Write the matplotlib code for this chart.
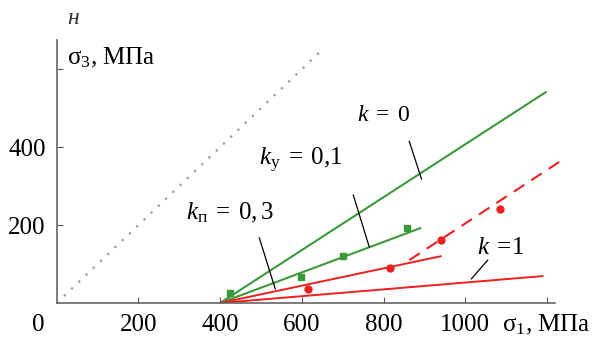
"""
Stress diagram: sigma_3 vs sigma_1 for several k values
Output: out.png
"""

import matplotlib.pyplot as plt

plt.rcParams.update({
    'font.family': ['Liberation Serif', 'DejaVu Serif'],
    'mathtext.fontset': 'custom',
    'mathtext.rm': 'Liberation Serif',
    'mathtext.it': 'Liberation Serif:italic',
    'font.size': 18,
})

GREEN = '#3a9a3a'
RED = '#ee1f1f'
GREY = '#9a9a9a'

# reference line sigma3 = sigma1
diag_x = [0, 650]
diag_y = [0, 650]

# k = 0 (green)
k0_x = [400, 1197]
k0_y = [0, 541]

# k_y = 0,1 (green) with experimental squares
ky_x = [400, 890]
ky_y = [0, 192]
ky_pts_x = [425, 599, 702, 858]
ky_pts_y = [26, 67, 120, 192]

# k_p = 0,3 (red), solid part and dashed continuation
kp_x = [400, 940]
kp_y = [0, 120]
kp_dash_x = [863, 1233]
kp_dash_y = [110, 364]
kp_pts_x = [614, 815, 940, 1084]
kp_pts_y = [36, 90, 162, 241]

# k = 1 (red)
k1_x = [400, 1189]
k1_y = [0, 69]

x_ticks = [200, 400, 600, 800, 1000, 1200]
x_labels = ['200', '400', '600', '800', '1000', '']
y_ticks = [200, 400, 600]
y_labels = ['200', '400', '']


def create_chart():
    fig = plt.figure(figsize=(5.99, 3.47), dpi=100)
    ax = fig.add_axes([0.0947, 0.1268, 0.832, 0.758])

    ax.plot(diag_x, diag_y, color=GREY, linestyle=(0, (1, 3.5)), linewidth=1.6)

    ax.plot(k0_x, k0_y, color=GREEN, linewidth=1.5)
    ax.plot(ky_x, ky_y, color=GREEN, linewidth=1.5)
    ax.plot(ky_pts_x, ky_pts_y, 's', color=GREEN, markersize=5)

    ax.plot(kp_x, kp_y, color=RED, linewidth=1.4)
    ax.plot(kp_dash_x, kp_dash_y, color=RED, linewidth=1.5,
            linestyle=(0, (6, 4)), clip_on=False)
    ax.plot(kp_pts_x, kp_pts_y, 'o', color=RED, markersize=5)

    ax.plot(k1_x, k1_y, color=RED, linewidth=1.4)

    # leader lines and labels
    notes = [
        (r'$k\;=\;0$', (800, 482), [863, 893], [415, 318], 17),
        (r'$k_{\mathrm{у}}\;=\;0{,}1$', (598, 367), [726, 765], [277, 144], 18),
        (r'$k_{\mathrm{п}}\;=\;0,3$', (425, 231), [496, 535], [167, 36], 18),
        (r'$k\;=\!1$', (1086, 141), [1055, 1015], [110, 62], 18),
    ]
    for txt, pos, lx, ly, fs in notes:
        ax.plot(lx, ly, color='black', linewidth=0.9)
        ax.text(pos[0], pos[1], txt, ha='center', va='center', fontsize=fs)

    ax.set_xlim(0, 1220)
    ax.set_ylim(0, 675)
    ax.set_xticks(x_ticks)
    ax.set_xticklabels(x_labels)
    ax.set_yticks(y_ticks)
    ax.set_yticklabels(y_labels)
    ax.tick_params(direction='in', length=4, width=0.8, color='#555555',
                   labelsize=18, pad=8)

    for side in ['top', 'right']:
        ax.spines[side].set_visible(False)
    for side in ['left', 'bottom']:
        ax.spines[side].set_color('#666666')
        ax.spines[side].set_linewidth(1.2)

    fig.text(38 / 599, 1 - 325 / 347, '0', ha='center', va='center', fontsize=18)
    fig.text(502 / 599, 1 - 325 / 347, 'σ$_1$, МПа', ha='left', va='center',
             fontsize=18)
    fig.text(67 / 599, 1 - 58 / 347, 'σ$_3$, МПа', ha='left', va='center',
             fontsize=18)
    fig.text(67 / 599, 1 - 18 / 347, 'н', ha='left', va='center', fontsize=17,
             style='italic', color='#333333')

    fig.savefig('out.png', dpi=100)
    plt.close(fig)


if __name__ == '__main__':
    create_chart()
